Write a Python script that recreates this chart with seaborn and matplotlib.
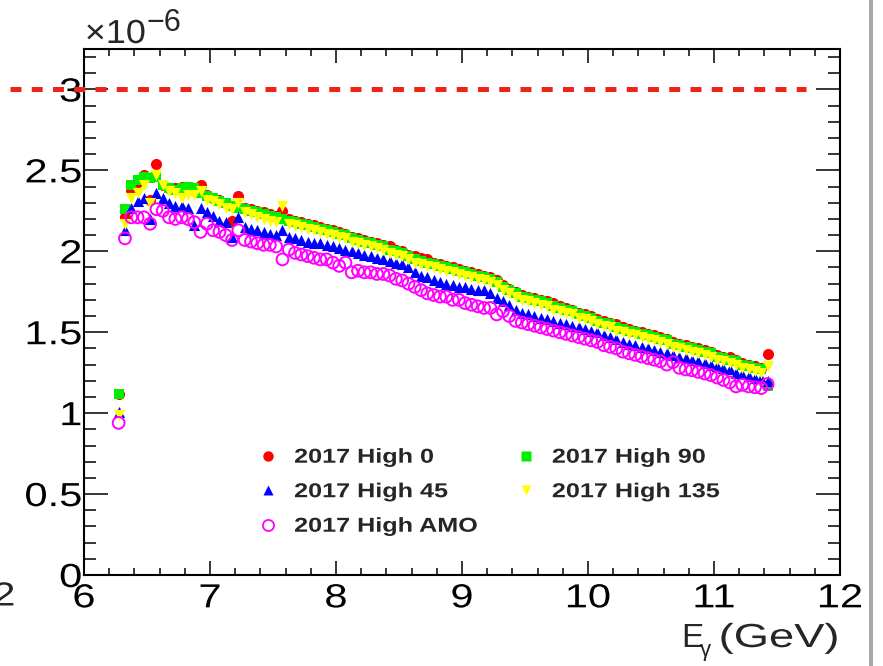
import numpy as np
import pandas as pd
import matplotlib
matplotlib.use("Agg")
import matplotlib.pyplot as plt
from matplotlib.lines import Line2D
from matplotlib.patches import Rectangle
from matplotlib.patheffects import AbstractPathEffect
from matplotlib.transforms import Affine2D
from matplotlib.ticker import MultipleLocator, FuncFormatter
import seaborn as sns

# ---------------------------------------------------------------------------
# Data: photon energy bins (GeV) and yields per setting, in units of 1e-6
# ---------------------------------------------------------------------------
BIN_START = 6.275
BIN_WIDTH = 0.05
N_BINS = 104
SCALE = 1e-6

high_0 = [
    1.12, 2.21, 2.38, 2.43, 2.47, 2.32, 2.54, 2.41, 2.39, 2.39,
    2.40, 2.40, 2.38, 2.41, 2.35, 2.33, 2.32, 2.30, 2.19, 2.34,
    2.27, 2.26, 2.25, 2.24, 2.23, 2.22, 2.25, 2.20, 2.19, 2.18,
    2.17, 2.16, 2.15, 2.14, 2.13, 2.12, 2.11, 2.09, 2.08, 2.07,
    2.06, 2.05, 2.04, 2.03, 2.01, 2.00, 1.98, 1.97, 1.96, 1.95,
    1.93, 1.92, 1.91, 1.90, 1.89, 1.88, 1.87, 1.86, 1.85, 1.84,
    1.82, 1.79, 1.77, 1.75, 1.73, 1.72, 1.71, 1.70, 1.69, 1.68,
    1.66, 1.65, 1.64, 1.62, 1.61, 1.60, 1.58, 1.57, 1.56, 1.55,
    1.53, 1.52, 1.51, 1.50, 1.49, 1.48, 1.47, 1.46, 1.44, 1.43,
    1.42, 1.41, 1.40, 1.39, 1.38, 1.36, 1.35, 1.345, 1.33, 1.31,
    1.30, 1.29, 1.28, 1.365,
]

high_45 = [
    1.01, 2.13, 2.27, 2.31, 2.33, 2.20, 2.36, 2.33, 2.30, 2.28,
    2.28, 2.27, 2.16, 2.27, 2.24, 2.22, 2.19, 2.18, 2.09, 2.21,
    2.15, 2.14, 2.13, 2.12, 2.11, 2.10, 2.13, 2.09, 2.08, 2.07,
    2.06, 2.05, 2.05, 2.04, 2.03, 2.02, 2.01, 2.00, 1.99, 1.98,
    1.97, 1.96, 1.95, 1.94, 1.93, 1.92, 1.90, 1.87, 1.85, 1.84,
    1.82, 1.81, 1.80, 1.79, 1.78, 1.78, 1.77, 1.76, 1.76, 1.74,
    1.71, 1.69, 1.67, 1.64, 1.62, 1.61, 1.60, 1.59, 1.58, 1.57,
    1.56, 1.55, 1.54, 1.53, 1.52, 1.51, 1.50, 1.48, 1.47, 1.46,
    1.44, 1.43, 1.42, 1.41, 1.40, 1.39, 1.38, 1.37, 1.36, 1.35,
    1.34, 1.33, 1.32, 1.31, 1.30, 1.29, 1.28, 1.27, 1.25, 1.24,
    1.23, 1.22, 1.22, 1.20,
]

high_amo = [
    0.94, 2.08, 2.21, 2.21, 2.21, 2.17, 2.26, 2.25, 2.21, 2.20,
    2.21, 2.20, 2.18, 2.12, 2.17, 2.13, 2.12, 2.10, 2.07, 2.13,
    2.07, 2.06, 2.05, 2.04, 2.04, 2.03, 1.95, 2.01, 1.99, 1.98,
    1.97, 1.96, 1.95, 1.95, 1.93, 1.91, 1.93, 1.87, 1.88, 1.87,
    1.87, 1.86, 1.86, 1.85, 1.83, 1.82, 1.80, 1.78, 1.76, 1.74,
    1.73, 1.72, 1.72, 1.70, 1.70, 1.68, 1.67, 1.66, 1.65, 1.65,
    1.61, 1.63, 1.60, 1.57, 1.56, 1.55, 1.54, 1.53, 1.52, 1.51,
    1.50, 1.49, 1.48, 1.47, 1.46, 1.45, 1.44, 1.42, 1.41, 1.40,
    1.38, 1.37, 1.36, 1.35, 1.34, 1.33, 1.32, 1.30, 1.315, 1.28,
    1.27, 1.265, 1.255, 1.245, 1.235, 1.22, 1.205, 1.19, 1.165, 1.175,
    1.165, 1.16, 1.155, 1.18,
]

high_90 = [
    1.12, 2.26, 2.41, 2.44, 2.46, 2.45, 2.46, 2.41, 2.39, 2.38,
    2.39, 2.40, 2.39, 2.36, 2.34, 2.33, 2.31, 2.30, 2.28, 2.27,
    2.26, 2.25, 2.24, 2.23, 2.22, 2.21, 2.20, 2.19, 2.18, 2.17,
    2.16, 2.15, 2.14, 2.13, 2.12, 2.11, 2.10, 2.08, 2.07, 2.06,
    2.05, 2.04, 2.03, 2.01, 2.00, 1.99, 1.97, 1.95, 1.94, 1.93,
    1.92, 1.91, 1.90, 1.89, 1.88, 1.87, 1.86, 1.85, 1.84, 1.83,
    1.81, 1.78, 1.76, 1.74, 1.72, 1.71, 1.70, 1.69, 1.68, 1.66,
    1.65, 1.64, 1.63, 1.61, 1.60, 1.59, 1.57, 1.56, 1.55, 1.53,
    1.52, 1.51, 1.50, 1.49, 1.48, 1.47, 1.46, 1.45, 1.43, 1.42,
    1.41, 1.40, 1.39, 1.38, 1.37, 1.35, 1.34, 1.33, 1.32, 1.30,
    1.29, 1.28, 1.27, 1.17,
]

high_135 = [
    0.99, 2.17, 2.33, 2.36, 2.41, 2.30, 2.47, 2.41, 2.37, 2.36,
    2.33, 2.35, 2.35, 2.37, 2.32, 2.31, 2.29, 2.27, 2.26, 2.30,
    2.24, 2.23, 2.21, 2.20, 2.19, 2.18, 2.28, 2.17, 2.16, 2.15,
    2.14, 2.13, 2.12, 2.11, 2.10, 2.09, 2.08, 2.06, 2.05, 2.04,
    2.03, 2.02, 2.01, 1.99, 1.98, 1.97, 1.95, 1.93, 1.92, 1.91,
    1.90, 1.89, 1.88, 1.87, 1.86, 1.85, 1.84, 1.83, 1.82, 1.81,
    1.79, 1.76, 1.74, 1.72, 1.70, 1.69, 1.68, 1.67, 1.66, 1.64,
    1.63, 1.62, 1.61, 1.59, 1.58, 1.57, 1.55, 1.54, 1.53, 1.51,
    1.50, 1.49, 1.48, 1.47, 1.46, 1.45, 1.44, 1.43, 1.41, 1.40,
    1.39, 1.38, 1.37, 1.36, 1.35, 1.33, 1.32, 1.31, 1.30, 1.28,
    1.27, 1.26, 1.25, 1.29,
]

labels = ["2017 High 0", "2017 High 45", "2017 High AMO",
          "2017 High 90", "2017 High 135"]
reference_level = 3.0  # dashed line, units of 1e-6
x_ticks = [6, 7, 8, 9, 10, 11, 12]
y_ticks = [0, 0.5, 1, 1.5, 2, 2.5, 3]


class HStretch(AbstractPathEffect):
    """Draw text paths widened horizontally about a fixed anchor."""

    def __init__(self, sx=1.25, anchor=0.0):
        super().__init__()
        self.sx = sx
        self.anchor = anchor

    def draw_path(self, renderer, gc, tpath, affine, rgbFace=None):
        ext = tpath.get_extents()
        xa = ext.x0 + self.anchor * ext.width
        tr = Affine2D().translate(-xa, 0).scale(self.sx, 1.0).translate(xa, 0)
        renderer.draw_path(gc, tpath, tr + affine, rgbFace)


STRETCH = 1.25

# ---------------------------------------------------------------------------
sns.set_style("ticks")
plt.rcParams["font.family"] = ["Liberation Sans", "DejaVu Sans"]

energy = BIN_START + BIN_WIDTH * np.arange(N_BINS)

series = {
    "2017 High 0": high_0,
    "2017 High 45": high_45,
    "2017 High AMO": high_amo,
    "2017 High 90": high_90,
    "2017 High 135": high_135,
}
frames = []
for name, vals in series.items():
    frames.append(pd.DataFrame({"E": energy, "y": np.asarray(vals) * SCALE,
                                "setting": name}))
df = pd.concat(frames, ignore_index=True)

styles = {
    "2017 High 0":   dict(marker="o", color="#ff0000", filled=True, s=64),
    "2017 High 90":  dict(marker="s", color="#00ee00", filled=True, s=56),
    "2017 High 45":  dict(marker="^", color="#0000ff", filled=True, s=64),
    "2017 High 135": dict(marker="v", color="#ffff00", filled=True, s=64),
    "2017 High AMO": dict(marker="o", color="#ff00ff", filled=False, s=72),
}
draw_order = ["2017 High 0", "2017 High 90", "2017 High 45",
              "2017 High 135", "2017 High AMO"]

fig = plt.figure(figsize=(8.83, 6.66), dpi=100)
ax = fig.add_axes([84 / 883, 91 / 666, 756 / 883, 526 / 666])

for z, name in enumerate(draw_order):
    st = styles[name]
    sub = df[df["setting"] == name]
    if st["filled"]:
        sns.scatterplot(data=sub, x="E", y="y", ax=ax, marker=st["marker"],
                        color=st["color"], s=st["s"], linewidth=0,
                        legend=False, zorder=3 + z)
    else:
        sns.scatterplot(data=sub, x="E", y="y", ax=ax, marker=st["marker"],
                        facecolor="none", edgecolor=st["color"], s=st["s"],
                        linewidth=1.4, legend=False, zorder=3 + z)

# horizontal reference line at 3e-6 (runs past the frame on the left)
ax.add_line(Line2D([5.413, 11.73], [reference_level * SCALE] * 2,
                   color="#f0231a", lw=3.6, linestyle=(0, (2.19, 2.06)),
                   solid_capstyle="butt", dash_capstyle="butt",
                   clip_on=False, zorder=20))

ax.set_xlim(6, 12)
ax.set_ylim(0, 3.25 * SCALE)
ax.set_xticks(x_ticks)
ax.set_yticks([v * SCALE for v in y_ticks])
ax.xaxis.set_minor_locator(MultipleLocator(0.2))
ax.yaxis.set_minor_locator(MultipleLocator(0.1 * SCALE))
ax.yaxis.set_major_formatter(
    FuncFormatter(lambda v, p: f"{round(v / SCALE, 3):g}"))
ax.xaxis.set_major_formatter(FuncFormatter(lambda v, p: f"{v:g}"))
ax.set_xlabel("")
ax.set_ylabel("")

for sp in ax.spines.values():
    sp.set_linewidth(1.5)
    sp.set_color("black")
ax.tick_params(which="both", direction="in", top=True, right=True,
               colors="black", width=1.1, labelsize=24)
ax.tick_params(axis="x", which="major", length=10, pad=6)
ax.tick_params(axis="x", which="minor", length=5)
ax.tick_params(axis="y", which="major", length=17, pad=1.5)
ax.tick_params(axis="y", which="minor", length=8.5)

# exponent of the y axis
fig.text(85 / 883, 1 - 43 / 666, "\u00d710", fontsize=24, ha="left",
         va="baseline", path_effects=[HStretch(1.08, 0.0)])
fig.text(147 / 883, 1 - 31 / 666, "\u22126", fontsize=22, ha="left",
         va="baseline")

# x axis title: E with a gamma subscript, then the unit
fig.text(681 / 883, 1 - 647 / 666, "E", fontsize=24, ha="left",
         va="baseline")
fig.text(700 / 883, 1 - 656 / 666, "\u03b3", fontsize=16, ha="left",
         va="baseline")
fig.text(839 / 883, 1 - 647 / 666, "(GeV)", fontsize=24, ha="right",
         va="baseline", path_effects=[HStretch(1.36, 1.0)])

# neighbouring tick label at the lower-left edge
fig.text(15 / 883, 1 - 597 / 666, "2", fontsize=24, ha="right",
         va="center", path_effects=[HStretch(STRETCH, 1.0)])

# grey border at the right edge
fig.add_artist(Rectangle((869 / 883, 0), 4 / 883, 1,
                         transform=fig.transFigure, color="#a7a7ad",
                         lw=0))

# legend
handles = []
for name in labels:
    st = styles[name]
    if st["filled"]:
        h = Line2D([], [], ls="none", marker=st["marker"], ms=7.5,
                   mfc=st["color"], mec="none")
    else:
        h = Line2D([], [], ls="none", marker=st["marker"], ms=8.0,
                   mfc="none", mec=st["color"], mew=1.3)
    handles.append(h)
leg = ax.legend(handles, labels, ncol=2, loc="upper left",
                bbox_to_anchor=(0.2302, 0.242), frameon=False, borderpad=0,
                borderaxespad=0, handlelength=1.0, handletextpad=0.8,
                labelspacing=0.77, columnspacing=3.7,
                prop={"family": "Liberation Sans", "weight": "bold",
                      "size": 14.5})
for t in leg.get_texts():
    t.set_path_effects([HStretch(STRETCH, 0.0)])

# widen tick labels like the rest of the lettering
fig.canvas.draw()
for tk in ax.xaxis.get_major_ticks():
    tk.label1.set_path_effects([HStretch(STRETCH, 0.5)])
for tk in ax.yaxis.get_major_ticks():
    tk.label1.set_path_effects([HStretch(STRETCH, 1.0)])

fig.savefig("out.png", dpi=100, facecolor="white")
